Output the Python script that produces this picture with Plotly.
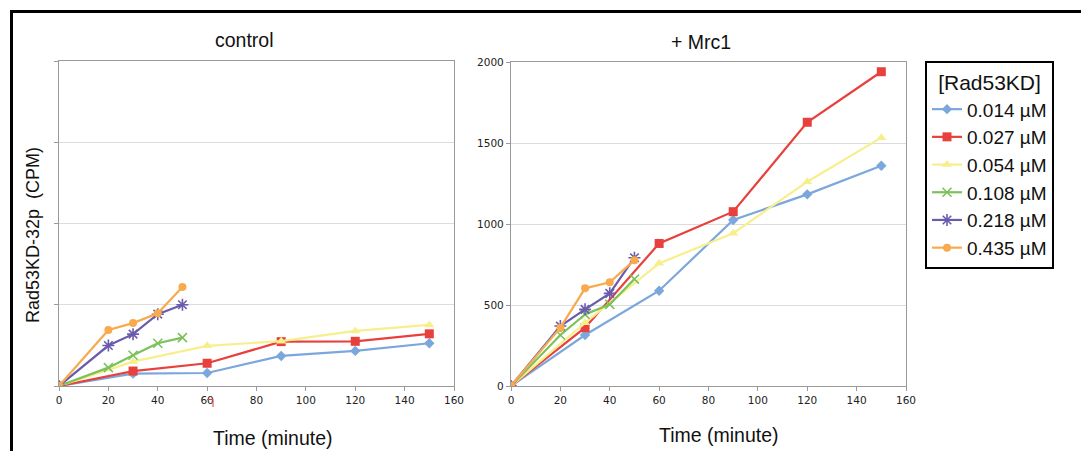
import plotly.graph_objects as go

W, H = 1081, 451

# ---------------- data ----------------
series_names = ["0.014 µM", "0.027 µM", "0.054 µM", "0.108 µM", "0.218 µM", "0.435 µM"]
colors = ["#7BA7DC", "#E8403C", "#F7EF8C", "#7CC25A", "#6B5BAE", "#F8AA4C"]
symbols = ["diamond", "square", "triangle-up", "x-thin-open", "asterisk-open", "circle"]
sizes = [8, 9, 9, 9, 10, 8]

# control panel
ctrl_t = [
    [0, 30, 60, 90, 120, 150],
    [0, 30, 60, 90, 120, 150],
    [0, 30, 60, 90, 120, 150],
    [0, 20, 30, 40, 50],
    [0, 20, 30, 40, 50],
    [0, 20, 30, 40, 50],
]
ctrl_y = [
    [0, 76, 80, 185, 216, 263],
    [0, 92, 140, 273, 275, 321],
    [0, 150, 247, 276, 339, 376],
    [0, 113, 189, 263, 298],
    [0, 249, 319, 442, 500],
    [0, 345, 387, 448, 609],
]

# + Mrc1 panel
mrc_t = [
    [0, 30, 60, 90, 120, 150],
    [0, 30, 60, 90, 120, 150],
    [0, 30, 60, 90, 120, 150],
    [0, 20, 30, 40, 50],
    [0, 20, 30, 40, 50],
    [0, 20, 30, 40, 50],
]
mrc_y = [
    [0, 315, 588, 1025, 1183, 1360],
    [0, 360, 880, 1076, 1628, 1940],
    [0, 390, 757, 943, 1261, 1533],
    [0, 315, 442, 504, 660],
    [0, 370, 473, 572, 792],
    [0, 360, 603, 640, 777],
]

x_ticks = [0, 20, 40, 60, 80, 100, 120, 140, 160]
y_ticks = [0, 500, 1000, 1500, 2000]

# ---------------- figure ----------------
fig = go.Figure()

for i in range(6):
    mk = dict(symbol=symbols[i], size=sizes[i], color=colors[i],
              line=dict(color=colors[i], width=1.6 if "open" in symbols[i] else 0))
    fig.add_trace(go.Scatter(
        x=ctrl_t[i], y=ctrl_y[i], mode="lines+markers", name=series_names[i],
        line=dict(color=colors[i], width=2.2), marker=mk,
        xaxis="x", yaxis="y", showlegend=True))
for i in range(6):
    mk = dict(symbol=symbols[i], size=sizes[i], color=colors[i],
              line=dict(color=colors[i], width=1.6 if "open" in symbols[i] else 0))
    fig.add_trace(go.Scatter(
        x=mrc_t[i], y=mrc_y[i], mode="lines+markers", name=series_names[i],
        line=dict(color=colors[i], width=2.2), marker=mk,
        xaxis="x2", yaxis="y2", showlegend=False))

def px_x(p):
    return p / W

def px_y(p):
    return 1 - p / H

tickfont = dict(family="DejaVu Sans", size=10.5, color="#222222")
axis_common = dict(showline=True, linecolor="#9a9a9a", linewidth=1.3, mirror=True,
                   ticks="outside", ticklen=4, tickcolor="#9a9a9a", zeroline=False,
                   tickfont=tickfont, automargin=False)

fig.update_layout(
    template="none",
    width=W, height=H,
    margin=dict(l=0, r=0, t=0, b=0, pad=0, autoexpand=False),
    paper_bgcolor="white", plot_bgcolor="white",
    font=dict(family="Liberation Sans, Arial", color="#111111"),
    xaxis=dict(domain=[px_x(59), px_x(454)], range=[0, 160], tickvals=x_ticks,
               showgrid=False, anchor="y", **axis_common),
    yaxis=dict(domain=[px_y(386), px_y(61)], range=[0, 2000], tickvals=y_ticks,
               showticklabels=False, showgrid=True, gridcolor="#dcdcdc", gridwidth=1,
               anchor="x", **axis_common),
    xaxis2=dict(domain=[px_x(511), px_x(906)], range=[0, 160], tickvals=x_ticks,
                showgrid=False, anchor="y2", **axis_common),
    yaxis2=dict(domain=[px_y(386), px_y(62)], range=[0, 2000], tickvals=y_ticks,
                showticklabels=True, showgrid=True, gridcolor="#dcdcdc", gridwidth=1,
                anchor="x2", **axis_common),
    legend=dict(x=px_x(925), y=px_y(61), xanchor="left", yanchor="top",
                bordercolor="black", borderwidth=2, bgcolor="white",
                font=dict(family="Liberation Sans, Arial", size=19, color="#111111"),
                title=dict(text="[Rad53KD]", side="top center",
                           font=dict(family="Liberation Sans, Arial", size=21, color="#111111")),
                itemwidth=30, entrywidth=110, entrywidthmode="pixels"),
)

ann_font = dict(family="Liberation Sans, Arial", size=19.5, color="#111111")
annotations = [
    dict(text="control", x=px_x(244), y=px_y(40)),
    dict(text="+ Mrc1", x=px_x(701), y=px_y(42)),
    dict(text="Time (minute)", x=px_x(273), y=px_y(438)),
    dict(text="Time (minute)", x=px_x(719), y=px_y(435)),
]
for a in annotations:
    fig.add_annotation(xref="paper", yref="paper", showarrow=False,
                       xanchor="center", yanchor="middle", font=ann_font, **a)
fig.add_annotation(xref="paper", yref="paper", showarrow=False, text="Rad53KD-32p\u00a0\u00a0(CPM)",
                   x=px_x(33), y=px_y(235), xanchor="center", yanchor="middle",
                   textangle=-90, font=dict(family="Liberation Sans, Arial", size=18, color="#111111"))

# outer frame (thick black lines at top and left)
fig.add_shape(type="line", xref="paper", yref="paper", x0=px_x(10), x1=1.0,
              y0=px_y(11.5), y1=px_y(11.5), line=dict(color="black", width=3))
fig.add_shape(type="line", xref="paper", yref="paper", x0=px_x(11.5), x1=px_x(11.5),
              y0=px_y(10), y1=0, line=dict(color="black", width=3))
# small red bracket artifact near tick label "60"
fig.add_shape(type="path", xref="paper", yref="paper",
              path=f"M {px_x(207)},{px_y(399.5)} L {px_x(213)},{px_y(399.5)} L {px_x(213)},{px_y(407)}",
              line=dict(color="#E8403C", width=1))

fig.write_html("out.html", config={"displayModeBar": False},
               post_script="document.body.style.margin='0';document.body.style.overflow='hidden';")
